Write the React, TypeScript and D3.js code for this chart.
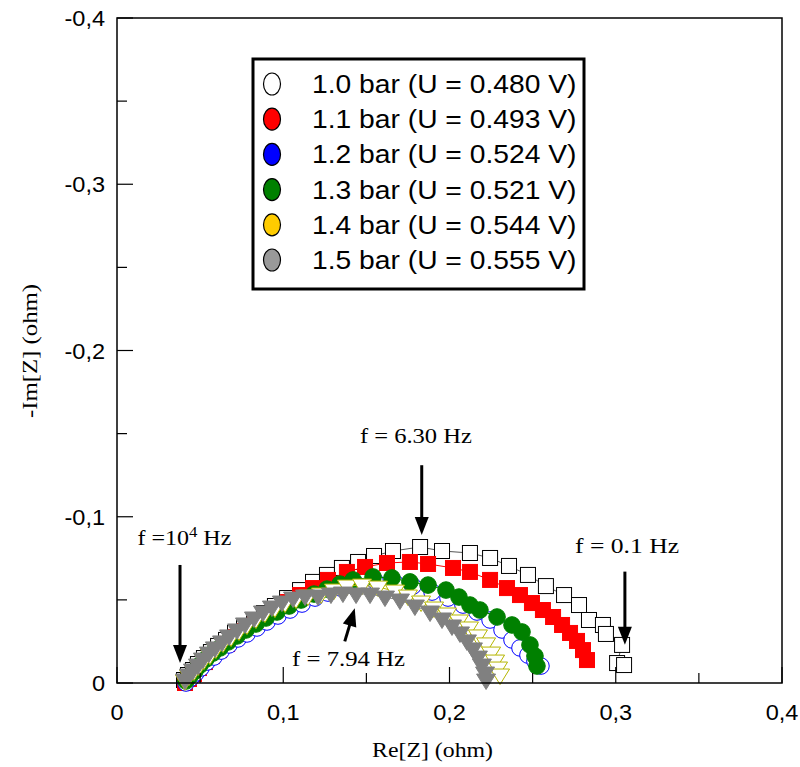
import React from "react";
import * as d3 from "d3";

// Re[Z] (ohm), Im axis value (ohm, negative as labelled)
const s10x = [0.0403,0.0427,0.0457,0.0487,0.0523,0.0565,0.0608,0.0656,0.0710,0.0764,0.0824,0.0884,0.0950,0.1023,0.1101,0.1179,0.1263,0.1353,0.1450,0.1546,0.1660,0.1823,0.1955,0.2123,0.2244,0.2358,0.2472,0.2580,0.2689,0.2779,0.2839,0.2923,0.2941,0.3038,0.3008,0.3050];
const s10y = [0.0018,0.0048,0.0078,0.0114,0.0150,0.0186,0.0223,0.0259,0.0301,0.0337,0.0379,0.0421,0.0463,0.0511,0.0559,0.0608,0.0650,0.0692,0.0728,0.0764,0.0794,0.0818,0.0794,0.0782,0.0752,0.0704,0.0650,0.0583,0.0529,0.0469,0.0379,0.0349,0.0295,0.0229,0.0120,0.0108];

const s11x = [0.0409,0.0433,0.0463,0.0493,0.0529,0.0571,0.0614,0.0662,0.0716,0.0770,0.0830,0.0890,0.0956,0.1029,0.1101,0.1179,0.1269,0.1383,0.1492,0.1624,0.1762,0.1871,0.2021,0.2123,0.2244,0.2346,0.2424,0.2496,0.2562,0.2623,0.2677,0.2725,0.2767,0.2803,0.2827];
const s11y = [0.0000,0.0024,0.0054,0.0090,0.0126,0.0162,0.0198,0.0235,0.0277,0.0313,0.0355,0.0397,0.0439,0.0487,0.0529,0.0571,0.0620,0.0668,0.0698,0.0722,0.0728,0.0716,0.0692,0.0668,0.0620,0.0571,0.0529,0.0481,0.0439,0.0397,0.0349,0.0301,0.0253,0.0198,0.0138];

const s12x = [0.0415,0.0445,0.0475,0.0505,0.0541,0.0583,0.0626,0.0674,0.0728,0.0782,0.0842,0.0902,0.0968,0.1041,0.1113,0.1191,0.1269,0.1347,0.1438,0.1552,0.1672,0.1780,0.1895,0.1991,0.2081,0.2165,0.2244,0.2316,0.2376,0.2424,0.2472,0.2514,0.2550];
const s12y = [0.0000,0.0030,0.0060,0.0090,0.0126,0.0156,0.0192,0.0229,0.0265,0.0295,0.0331,0.0367,0.0403,0.0439,0.0475,0.0511,0.0541,0.0571,0.0595,0.0614,0.0602,0.0583,0.0547,0.0511,0.0469,0.0427,0.0379,0.0319,0.0259,0.0211,0.0168,0.0132,0.0102];

const s13x = [0.0415,0.0439,0.0469,0.0499,0.0535,0.0577,0.0620,0.0668,0.0722,0.0776,0.0836,0.0896,0.0962,0.1035,0.1107,0.1185,0.1263,0.1341,0.1420,0.1540,0.1654,0.1762,0.1871,0.1979,0.2057,0.2123,0.2183,0.2286,0.2376,0.2436,0.2484,0.2514,0.2526];
const s13y = [0.0012,0.0042,0.0072,0.0108,0.0144,0.0180,0.0211,0.0247,0.0283,0.0319,0.0355,0.0391,0.0427,0.0463,0.0499,0.0535,0.0565,0.0595,0.0620,0.0638,0.0632,0.0608,0.0589,0.0559,0.0517,0.0469,0.0439,0.0397,0.0349,0.0307,0.0229,0.0162,0.0102];

const s14x = [0.0409,0.0433,0.0463,0.0493,0.0523,0.0559,0.0595,0.0638,0.0686,0.0734,0.0782,0.0836,0.0890,0.0950,0.1011,0.1077,0.1149,0.1227,0.1305,0.1383,0.1474,0.1570,0.1672,0.1750,0.1829,0.1907,0.1985,0.2057,0.2117,0.2171,0.2220,0.2250,0.2274,0.2292,0.2304];
const s14y = [0.0012,0.0042,0.0072,0.0102,0.0138,0.0168,0.0205,0.0241,0.0277,0.0313,0.0349,0.0385,0.0421,0.0451,0.0481,0.0505,0.0523,0.0535,0.0559,0.0583,0.0589,0.0577,0.0553,0.0523,0.0487,0.0451,0.0415,0.0373,0.0331,0.0283,0.0235,0.0180,0.0132,0.0090,0.0048];

const s15x = [0.0409,0.0433,0.0457,0.0487,0.0517,0.0553,0.0589,0.0632,0.0674,0.0722,0.0770,0.0824,0.0878,0.0932,0.0992,0.1059,0.1131,0.1209,0.1287,0.1359,0.1438,0.1522,0.1612,0.1702,0.1792,0.1883,0.1955,0.2015,0.2063,0.2105,0.2141,0.2171,0.2195,0.2214,0.2220];
const s15y = [0.0018,0.0048,0.0078,0.0108,0.0144,0.0180,0.0211,0.0247,0.0283,0.0319,0.0355,0.0391,0.0427,0.0457,0.0487,0.0511,0.0523,0.0523,0.0535,0.0541,0.0535,0.0535,0.0517,0.0499,0.0463,0.0427,0.0385,0.0343,0.0301,0.0253,0.0205,0.0156,0.0108,0.0060,0.0018];

const legendLabels = [
  "1.0 bar (U = 0.480 V)",
  "1.1 bar (U = 0.493 V)",
  "1.2 bar (U = 0.524 V)",
  "1.3 bar (U = 0.521 V)",
  "1.4 bar (U = 0.544 V)",
  "1.5 bar (U = 0.555 V)",
];
const legendFills = ["#ffffff", "#ff0000", "#0000ff", "#008000", "#ffcc00", "#999999"];

const xTicks = [0, 0.1, 0.2, 0.3, 0.4];
const xTickLabels = ["0", "0,1", "0,2", "0,3", "0,4"];
const yTicks = [0, -0.1, -0.2, -0.3, -0.4];
const yTickLabels = ["0", "-0,1", "-0,2", "-0,3", "-0,4"];
const minorTicks = [0.05, 0.15, 0.25, 0.35];

type Shape = "square" | "circle" | "tri";
const seriesDefs: { xs: number[]; ys: number[]; shape: Shape; fill: string; stroke: string; line: string }[] = [
  { xs: s10x, ys: s10y, shape: "square", fill: "#ffffff", stroke: "#000000", line: "#555555" },
  { xs: s11x, ys: s11y, shape: "square", fill: "#ff0000", stroke: "#ff0000", line: "#ff0000" },
  { xs: s12x, ys: s12y, shape: "circle", fill: "#ffffff", stroke: "#0000ff", line: "#0000ff" },
  { xs: s13x, ys: s13y, shape: "circle", fill: "#008000", stroke: "#008000", line: "#008000" },
  { xs: s14x, ys: s14y, shape: "tri", fill: "#ffffff", stroke: "#b5b500", line: "#b5b500" },
  { xs: s15x, ys: s15y, shape: "tri", fill: "#808080", stroke: "#808080", line: "#808080" },
];

// annotations in data units: text anchor (left, baseline), arrow tail -> tip
const annotations = [
  { tx: 0.0123, ty: -0.0830, label: "f =10", sup: "4", tail: " Hz", w: 108, ax1: 0.0379, ay1: -0.071, ax2: 0.0379, ay2: -0.012 },
  { tx: 0.1461, ty: -0.1444, label: "f  = 6.30 Hz", sup: "", tail: "", w: 112, ax1: 0.1833, ay1: -0.131, ax2: 0.1833, ay2: -0.089 },
  { tx: 0.2755, ty: -0.0782, label: "f  = 0.1 Hz", sup: "", tail: "", w: 104, ax1: 0.3055, ay1: -0.067, ax2: 0.3055, ay2: -0.023 },
  { tx: 0.1053, ty: -0.0102, label: "f  = 7.94 Hz", sup: "", tail: "", w: 113, ax1: 0.1370, ay1: -0.025, ax2: 0.1430, ay2: -0.045 },
];

const W = 800, H = 767;
const L = 117, R = 782, T = 18, B = 683;

export default function App() {
  const x = d3.scaleLinear().domain([0, 0.4]).range([L, R]);
  const y = d3.scaleLinear().domain([0, -0.4]).range([B, T]);
  const sans = "Arial, 'Liberation Sans', sans-serif";
  const serif = "'Times New Roman', 'Liberation Serif', serif";

  const line = d3.line<[number, number]>().x(d => x(d[0])).y(d => y(-d[1]));

  const marker = (shape: Shape, cx: number, cy: number, fill: string, stroke: string, key: string) => {
    if (shape === "square") {
      return <rect key={key} x={cx - 7.5} y={cy - 7.5} width={15} height={15} fill={fill} stroke={stroke} strokeWidth={1} />;
    }
    if (shape === "circle") {
      return <circle key={key} cx={cx} cy={cy} r={8.3} fill={fill} stroke={stroke} strokeWidth={1} />;
    }
    const p = `M${cx - 9.5},${cy - 6} L${cx + 9.5},${cy - 6} L${cx},${cy + 9.5} Z`;
    return <path key={key} d={p} fill={fill} stroke={stroke} strokeWidth={1} />;
  };

  const arrowHead = (x1: number, y1: number, x2: number, y2: number) => {
    const ang = Math.atan2(y2 - y1, x2 - x1);
    const len = 18, half = 7;
    const bx = x2 - len * Math.cos(ang), by = y2 - len * Math.sin(ang);
    const px = -Math.sin(ang) * half, py = Math.cos(ang) * half;
    return `M${x2},${y2} L${bx + px},${by + py} L${bx - px},${by - py} Z`;
  };

  return (
    <svg width={W} height={H} style={{ position: "absolute", left: 0, top: 0, background: "#fff" }}>
      <rect x={0} y={0} width={W} height={H} fill="#fff" />
      {/* data */}
      {seriesDefs.map((s, i) => {
        const pts: [number, number][] = s.xs.map((v, j) => [v, s.ys[j]]);
        return (
          <g key={i}>
            <path d={line(pts) || ""} fill="none" stroke={s.line} strokeWidth={1} />
            {pts.map((p, j) => marker(s.shape, x(p[0]), y(-p[1]), s.fill, s.stroke, `${i}-${j}`))}
          </g>
        );
      })}
      {/* frame */}
      <rect x={L} y={T} width={R - L} height={B - T} fill="none" stroke="#000" strokeWidth={1.5} />
      {xTicks.map((t, i) => (
        <g key={"xt" + i}>
          <line x1={x(t)} x2={x(t)} y1={B} y2={B - 16} stroke="#000" strokeWidth={1.2} />
          <text transform={`translate(${x(t)},${B + 37}) scale(1.07,1)`} textAnchor="middle" fontFamily={sans} fontSize={22}>{xTickLabels[i]}</text>
        </g>
      ))}
      {minorTicks.map((t, i) => (
        <line key={"xm" + i} x1={x(t)} x2={x(t)} y1={B} y2={B - 10} stroke="#000" strokeWidth={1.2} />
      ))}
      {yTicks.map((t, i) => (
        <g key={"yt" + i}>
          <line x1={L} x2={L + 16} y1={y(t)} y2={y(t)} stroke="#000" strokeWidth={1.2} />
          <text transform={`translate(${L - 12},${y(t) + 8}) scale(1.07,1)`} textAnchor="end" fontFamily={sans} fontSize={22}>{yTickLabels[i]}</text>
        </g>
      ))}
      {minorTicks.map((t, i) => (
        <line key={"ym" + i} x1={L} x2={L + 10} y1={y(-t)} y2={y(-t)} stroke="#000" strokeWidth={1.2} />
      ))}
      {/* axis titles */}
      <text x={372} y={757} textLength={121} lengthAdjust="spacingAndGlyphs" fontFamily={serif} fontSize={22}>Re[Z] (ohm)</text>
      <text transform={`translate(37,418) rotate(-90)`} textLength={134} lengthAdjust="spacingAndGlyphs" fontFamily={serif} fontSize={22}>-Im[Z] (ohm)</text>
      {/* annotations */}
      {annotations.map((a, i) => {
        const x1 = x(a.ax1), y1 = y(a.ay1), x2 = x(a.ax2), y2 = y(a.ay2);
        const ang = Math.atan2(y2 - y1, x2 - x1);
        return (
          <g key={"an" + i}>
            {a.sup ? (
              <text transform={`translate(${x(a.tx)},${y(a.ty)}) scale(1.2,1)`} fontFamily={serif} fontSize={20}>
                {a.label}
                <tspan dy={-8} fontSize={14}>{a.sup}</tspan>
                <tspan dy={8}>{a.tail}</tspan>
              </text>
            ) : (
              <text x={x(a.tx)} y={y(a.ty)} textLength={a.w} lengthAdjust="spacingAndGlyphs" fontFamily={serif} fontSize={20}>{a.label}</text>
            )}
            <line x1={x1} y1={y1} x2={x2 - 14 * Math.cos(ang)} y2={y2 - 14 * Math.sin(ang)} stroke="#000" strokeWidth={3} />
            <path d={arrowHead(x1, y1, x2, y2)} fill="#000" />
          </g>
        );
      })}
      {/* legend */}
      <rect x={253} y={59} width={331} height={230} fill="#fff" stroke="#000" strokeWidth={3} />
      {legendLabels.map((lab, i) => (
        <g key={"lg" + i}>
          <ellipse cx={272} cy={84 + i * 35.2} rx={8.5} ry={11} fill={legendFills[i]} stroke="#000" strokeWidth={1.2} />
          <text transform={`translate(312,${93 + i * 35.2}) scale(1.13,1)`} fontFamily={sans} fontSize={25}>{lab}</text>
        </g>
      ))}
    </svg>
  );
}
